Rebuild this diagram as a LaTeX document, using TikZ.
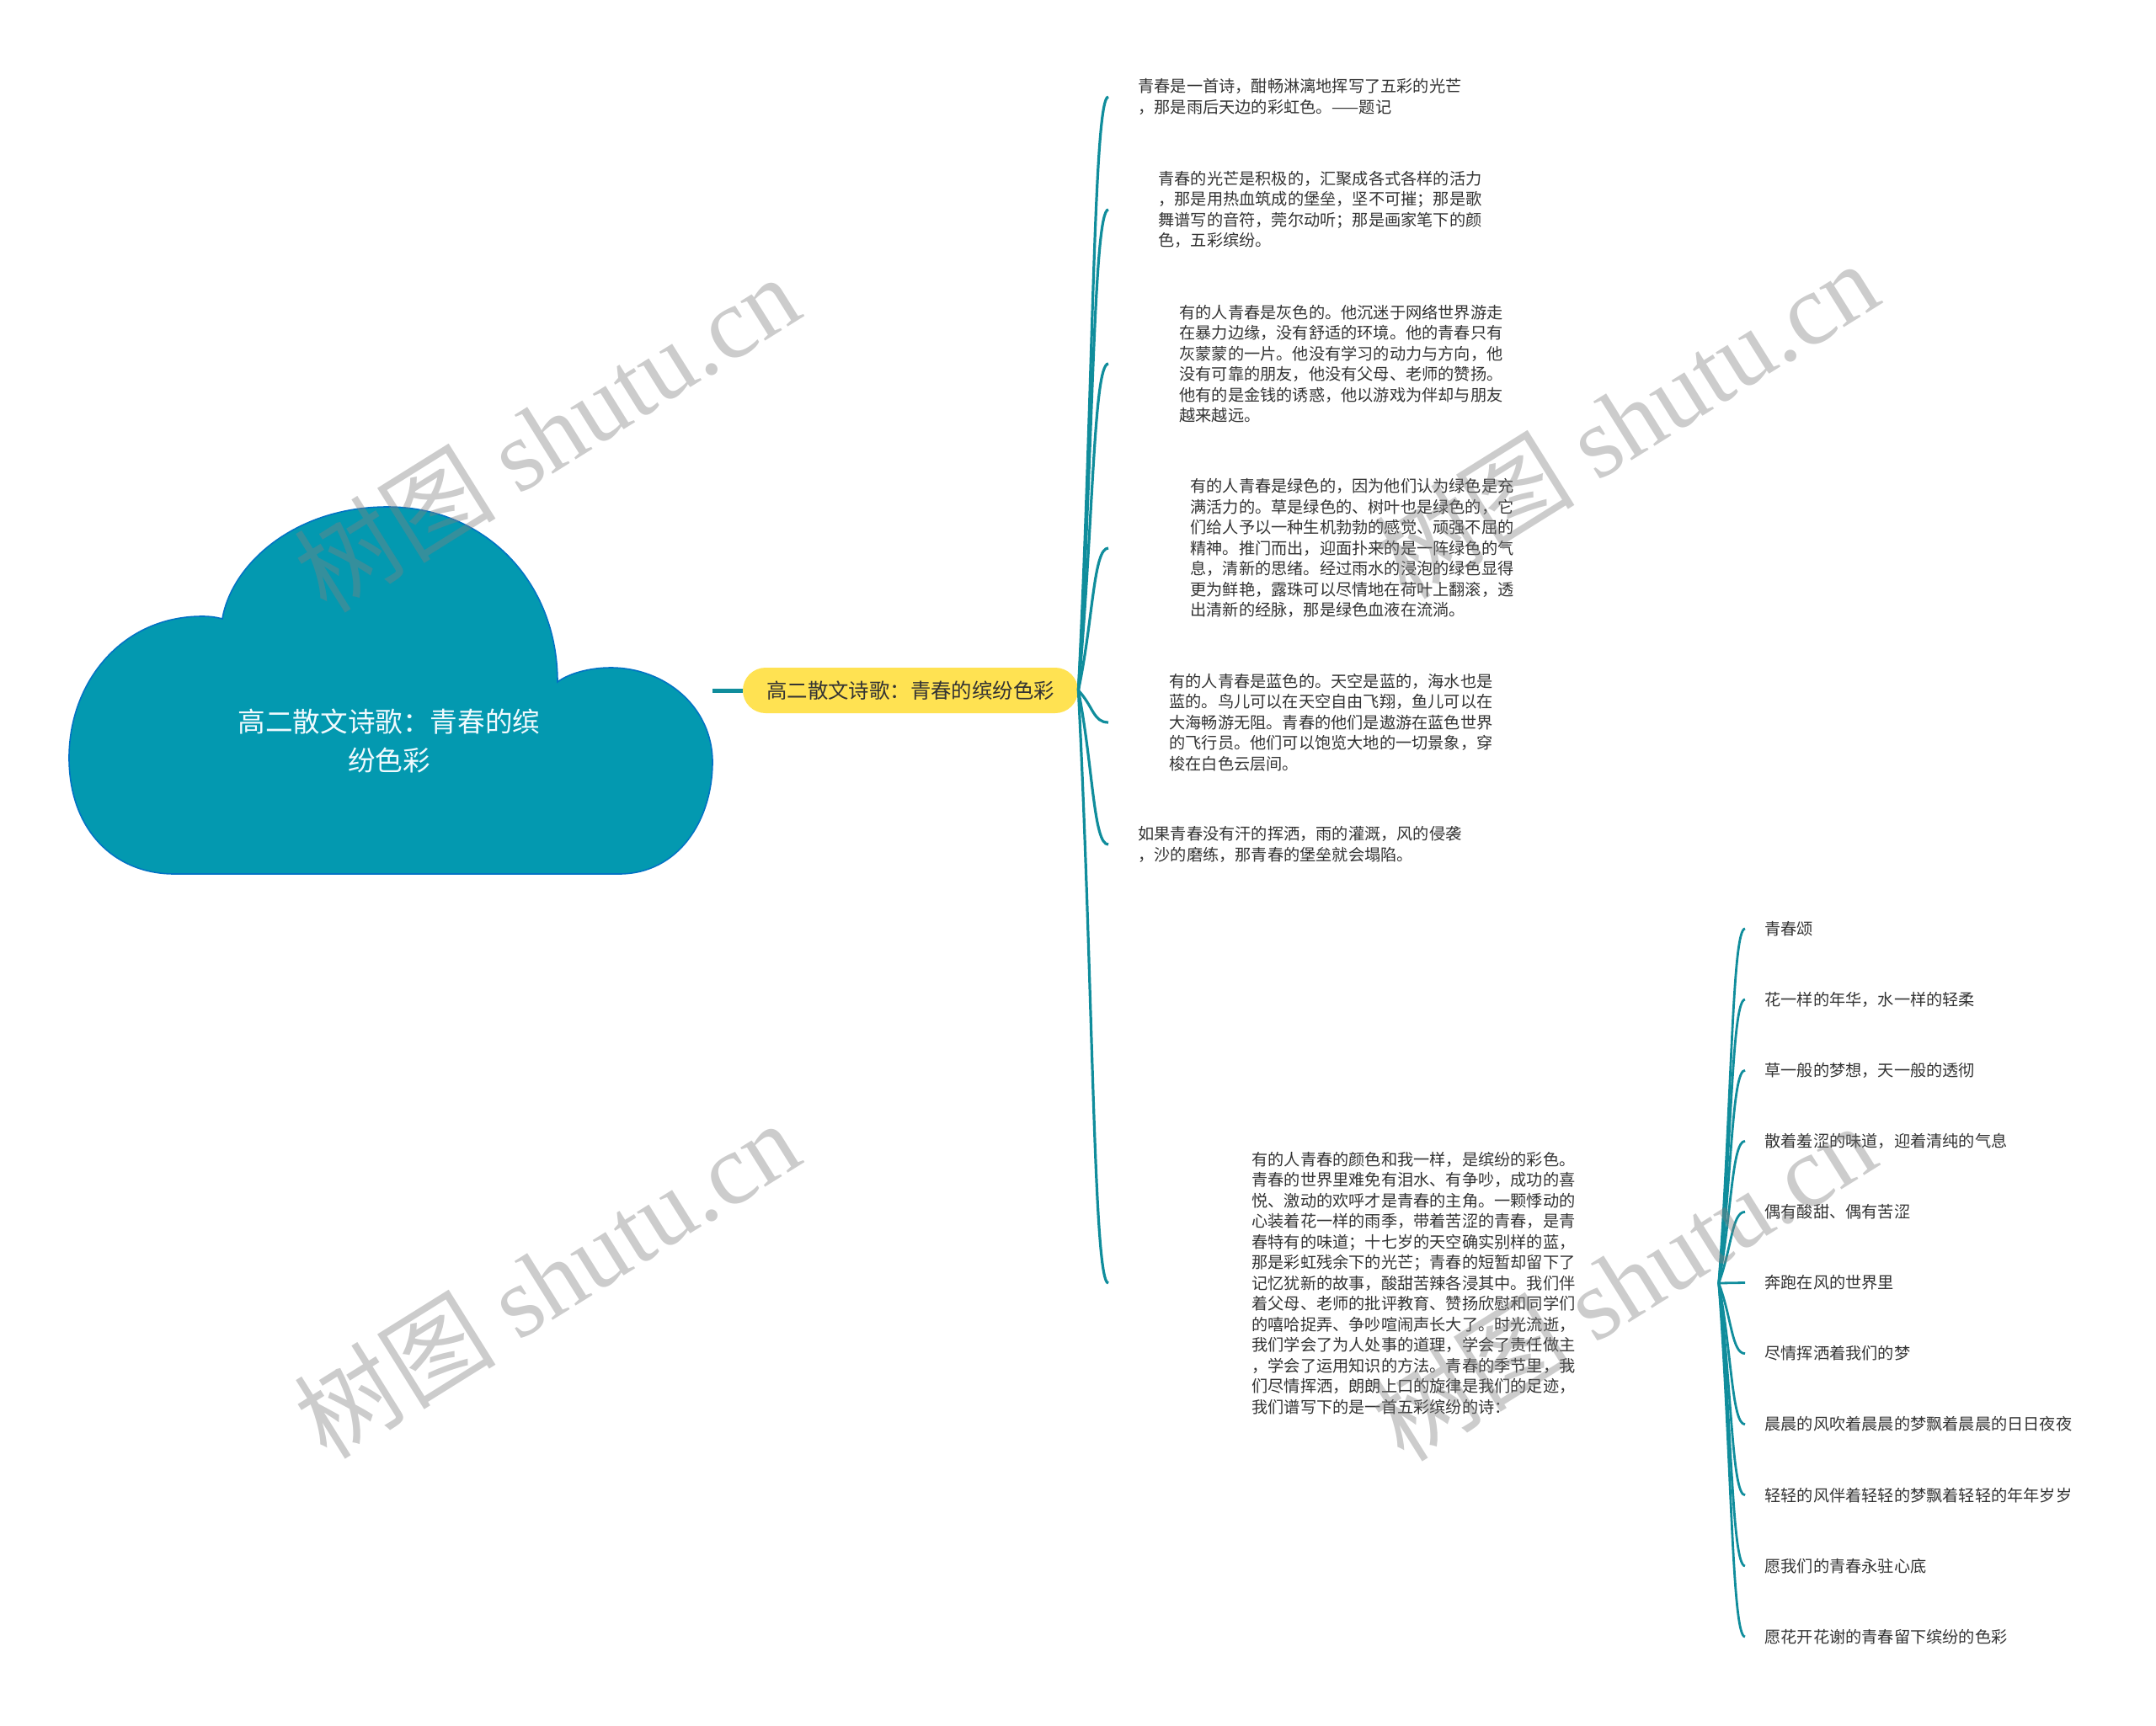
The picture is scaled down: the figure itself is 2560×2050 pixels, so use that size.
\documentclass[tikz,border=0pt]{standalone}
\usepackage{fontspec}
\setmainfont{Noto Sans CJK SC}
\newfontfamily\markfont{Liberation Serif}
\usepackage{tikz}
\usetikzlibrary{positioning, calc}
\definecolor{cloudteal}{RGB}{3,153,176}
\definecolor{branchteal}{RGB}{16,141,156}
\definecolor{subyellow}{RGB}{255,226,82}

\begin{document}
\begin{tikzpicture}[
  x=0.5pt, y=-0.5pt,
  font=\fontsize{9.6}{12.25}\selectfont,
  cloud/.style={fill=cloudteal, draw=cloudteal!75!blue, line width=0.8pt},
  roottext/.style={align=center, text=cyan!6, font=\fontsize{16.3}{23}\selectfont},
  sub/.style={fill=subyellow, rounded corners=13.5pt, minimum width=199pt,
    minimum height=27pt, text=black!80, font=\fontsize{12.2}{14}\selectfont},
  para/.style={anchor=west, align=left, inner ysep=0pt, text=black!80},
  leaf/.style={anchor=west, inner xsep=11.5pt, inner ysep=0pt, text=black!80},
  branch/.style={draw=branchteal, line width=1.6pt},
  wmark/.style={rotate=32, text=black!50, text opacity=0.4,
    font=\fontsize{60}{60}\selectfont}
]
\useasboundingbox (0,0) rectangle (2560,2050);

% central cloud
\filldraw[cloud] (207,1038) -- (735,1038)
  .. controls (805,1038) and (846,975) .. (846,905)
  .. controls (846,840) and (790,793) .. (725,793)
  .. controls (700,793) and (675,800) .. (662,810)
  .. controls (662,690) and (575,602) .. (460,602)
  .. controls (350,602) and (275,670) .. (264,735)
  .. controls (257,733) and (250,732) .. (240,732)
  .. controls (145,732) and (82,810) .. (82,900)
  .. controls (82,985) and (135,1038) .. (207,1038) -- cycle;
\node[roottext] (root) at (462,880) {高二散文诗歌：青春的缤\\纷色彩};
\coordinate (root-e) at (846,820);

\node[sub] (sub) at (1081,820) {高二散文诗歌：青春的缤纷色彩};
\draw[branch, line width=2.5pt] (root-e) -- (sub.west);

\node[para, inner xsep=17.5pt] (p1) at (1316,115) {青春是一首诗，酣畅淋漓地挥写了五彩的光芒\\，那是雨后天边的彩虹色。——题记};
\node[para, inner xsep=29.5pt] (p2) at (1316,249) {青春的光芒是积极的，汇聚成各式各样的活力\\，那是用热血筑成的堡垒，坚不可摧；那是歌\\舞谱写的音符，莞尔动听；那是画家笔下的颜\\色，五彩缤纷。};
\node[para, inner xsep=42pt] (p3) at (1316,432) {有的人青春是灰色的。他沉迷于网络世界游走\\在暴力边缘，没有舒适的环境。他的青春只有\\灰蒙蒙的一片。他没有学习的动力与方向，他\\没有可靠的朋友，他没有父母、老师的赞扬。\\他有的是金钱的诱惑，他以游戏为伴却与朋友\\越来越远。};
\node[para, inner xsep=48.5pt] (p4) at (1316,651) {有的人青春是绿色的，因为他们认为绿色是充\\满活力的。草是绿色的、树叶也是绿色的，它\\们给人予以一种生机勃勃的感觉、顽强不屈的\\精神。推门而出，迎面扑来的是一阵绿色的气\\息，清新的思绪。经过雨水的浸泡的绿色显得\\更为鲜艳，露珠可以尽情地在荷叶上翻滚，透\\出清新的经脉，那是绿色血液在流淌。};
\node[para, inner xsep=36pt] (p5) at (1316,858) {有的人青春是蓝色的。天空是蓝的，海水也是\\蓝的。鸟儿可以在天空自由飞翔，鱼儿可以在\\大海畅游无阻。青春的他们是遨游在蓝色世界\\的飞行员。他们可以饱览大地的一切景象，穿\\梭在白色云层间。};
\node[para, inner xsep=17.5pt] (p6) at (1316,1003) {如果青春没有汗的挥洒，雨的灌溉，风的侵袭\\，沙的磨练，那青春的堡垒就会塌陷。};
\node[para, inner xsep=85pt] (p7) at (1316,1524) {有的人青春的颜色和我一样，是缤纷的彩色。\\青春的世界里难免有泪水、有争吵，成功的喜\\悦、激动的欢呼才是青春的主角。一颗悸动的\\心装着花一样的雨季，带着苦涩的青春，是青\\春特有的味道；十七岁的天空确实别样的蓝，\\那是彩虹残余下的光芒；青春的短暂却留下了\\记忆犹新的故事，酸甜苦辣各浸其中。我们伴\\着父母、老师的批评教育、赞扬欣慰和同学们\\的嘻哈捉弄、争吵喧闹声长大了。时光流逝，\\我们学会了为人处事的道理，学会了责任做主\\，学会了运用知识的方法。青春的季节里，我\\们尽情挥洒，朗朗上口的旋律是我们的足迹，\\我们谱写下的是一首五彩缤纷的诗：};

\foreach \t in {p1,p2,p3,p4,p5,p6,p7}
  \draw[branch] (sub.east) .. controls ($(sub.east)!.5!(\t.west)$) and ($(\t.west)!.5!(\t.west -| sub.east)$) .. (\t.west);

% the poem
\foreach \txt [count=\i from 0] in {青春颂, 花一样的年华，水一样的轻柔, 草一般的梦想，天一般的透彻,
    散着羞涩的味道，迎着清纯的气息, 偶有酸甜、偶有苦涩, 奔跑在风的世界里, 尽情挥洒着我们的梦,
    晨晨的风吹着晨晨的梦飘着晨晨的日日夜夜, 轻轻的风伴着轻轻的梦飘着轻轻的年年岁岁,
    愿我们的青春永驻心底, 愿花开花谢的青春留下缤纷的色彩}
{
  \node[leaf] (l\i) at (2072,1103+84.1*\i) {\txt};
  \draw[branch, line width=1.4pt] (p7.east) .. controls ($(p7.east)!.5!(l\i.west)$) and ($(l\i.west)!.5!(l\i.west -| p7.east)$) .. (l\i.west);
}

\node[wmark] (wm1) at (649,514) {树图 {\markfont shutu.cn}};
\node[wmark] (wm2) at (1930,498) {树图 {\markfont shutu.cn}};
\node[wmark] (wm3) at (649,1519) {树图 {\markfont shutu.cn}};
\node[wmark] (wm4) at (1927,1522) {树图 {\markfont shutu.cn}};
\end{tikzpicture}
\end{document}
